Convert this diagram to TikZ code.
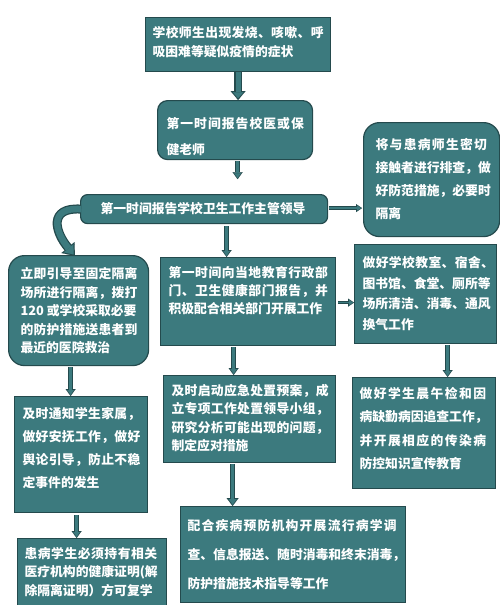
\documentclass[tikz,border=0pt]{standalone}
\usepackage{fontspec}
\newfontfamily\cjk{Noto Sans CJK SC}
\usetikzlibrary{arrows.meta,calc}
\definecolor{tealf}{RGB}{60,122,126}
\definecolor{edgec}{RGB}{36,74,77}
\newcommand\ls[2]{{\addfontfeature{LetterSpace=#1}#2}}
\newcommand\btext[4]{\raisebox{#1}[\height][\depth]{\begin{minipage}{#2}\fontsize{12.8}{#3}\selectfont\raggedright #4\end{minipage}}}
\newcommand\blkarrow[3]{\draw[#1] #3; \draw[#2] #3;}
\tikzset{
  box/.style={draw=edgec, fill=tealf, line width=1.2pt, text=white, font=\cjk\bfseries, inner sep=0pt, anchor=north west},
  rbox/.style={box, rounded corners=#1},
  bigo/.style={line width=7.5pt, draw=edgec, -{Triangle[length=9pt,width=15pt,line width=0.1pt]}},
  bigi/.style={line width=5pt, draw=tealf, shorten >=1.8pt, -{Triangle[length=6pt,width=10.5pt,line width=0.1pt]}},
  curo/.style={line width=9pt, draw=edgec, -{Triangle[length=11pt,width=17pt,line width=0.1pt]}},
  curi/.style={line width=6.5pt, draw=tealf, shorten >=2pt, -{Triangle[length=8pt,width=12.5pt,line width=0.1pt]}},
  smo/.style={line width=4.5pt, draw=edgec, -{Triangle[length=7pt,width=10pt,line width=0.1pt]}},
  smi/.style={line width=2.5pt, draw=tealf, shorten >=1.2pt, -{Triangle[length=4.8pt,width=6.5pt,line width=0.1pt]}},
  tho/.style={line width=3.4pt, draw=edgec, -{Triangle[length=6pt,width=8pt,line width=0.1pt]}},
  thi/.style={line width=1.4pt, draw=tealf, shorten >=1pt, -{Triangle[length=4pt,width=5pt,line width=0.1pt]}},
  mdo/.style={line width=5.5pt, draw=edgec, -{Triangle[length=8pt,width=12pt,line width=0.1pt]}},
  mdi/.style={line width=3.5pt, draw=tealf, shorten >=1.4pt, -{Triangle[length=5.5pt,width=8pt,line width=0.1pt]}},
}
\begin{document}
\begin{tikzpicture}[x=1pt,y=-1pt]
\useasboundingbox (0,0) rectangle (500,605);
\fill[white] (0,0) rectangle (500,605);

\node[box, minimum width=185pt, minimum height=54pt] (b1) at (145,17)
  {\btext{2.5pt}{171pt}{19pt}{\ls{3}{学校师生出现发烧、咳嗽、呼}\\吸困难等疑似疫情的症状}};
\node[rbox=10pt, minimum width=155pt, minimum height=59pt] (b2) at (157,100)
  {\btext{-6.5pt}{137pt}{26pt}{\ls{8}{第一时间报告校医或保}\\健老师}};
\node[rbox=7pt, minimum width=247pt, minimum height=29pt] (b3) at (80,194)
  {\btext{0.5pt}{207pt}{15pt}{第一时间报告学校卫生工作主管领导}};
\node[rbox=16pt, minimum width=136pt, minimum height=114pt] (r1) at (363,122)
  {\btext{0.5pt}{112pt}{23pt}{\ls{10}{将与患病师生密切}\\接触者进行排查，做\\好防范措施，必要时\\隔离}};
\node[rbox=16pt, minimum width=140pt, minimum height=110pt] (L1) at (8,255)
  {\btext{0pt}{116pt}{18.5pt}{\ls{1.5}{立即引导至固定隔离}\\\ls{1.5}{场所进行隔离，拨打}\\120 或学校采取必要\\\ls{1.5}{的防护措施送患者到}\\最近的医院救治}};
\node[box, minimum width=175pt, minimum height=88pt] (M1) at (160,257)
  {\btext{11pt}{159pt}{18.3pt}{\ls{4}{第一时间向当地教育行政部}\\\ls{4}{门、卫生健康部门报告，并}\\积极配合相关部门开展工作}};
\node[box, minimum width=142pt, minimum height=99pt] (R2) at (354,244)
  {\btext{0.5pt}{126pt}{20.5pt}{\ls{3}{做好学校教室、宿舍、}\\图书馆、食堂、厕所等\\场所清洁、消毒、通风\\换气工作}};
\node[box, minimum width=133pt, minimum height=116pt] (L2) at (14,396)
  {\btext{6.5pt}{117pt}{23pt}{\ls{2.5}{及时通知学生家属，}\\\ls{2.5}{做好安抚工作，做好}\\\ls{2.5}{舆论引导，防止不稳}\\定事件的发生}};
\node[box, minimum width=172pt, minimum height=87pt] (M2) at (163,375)
  {\btext{1pt}{156pt}{18.5pt}{\ls{2.5}{及时启动应急处置预案，成}\\\ls{2.5}{立专项工作处置领导小组，}\\\ls{2.5}{研究分析可能出现的问题，}\\制定应对措施}};
\node[box, minimum width=143pt, minimum height=111pt] (R3) at (352,377)
  {\btext{4.5pt}{129pt}{23.5pt}{\ls{11}{做好学生晨午检和因}\\病缺勤病因追查工作，\\\ls{11}{并开展相应的传染病}\\防控知识宣传教育}};
\node[box, minimum width=149pt, minimum height=72pt] (L3) at (17,538)
  {\btext{2.5pt}{135pt}{18.5pt}{\ls{4}{患病学生必须持有相关}\\医疗机构的健康证明(解\\除隔离证明）方可复学}};
\node[box, minimum width=225pt, minimum height=96pt] (B) at (180,506)
  {\btext{0pt}{211pt}{29pt}{\ls{9.5}{配合疾病预防机构开展流行病学调}\\查、信息报送、随时消毒和终末消毒，\\防护措施技术指导等工作}};

% connectors
\coordinate (a2s) at ($(b2.south)+(2.5,1)$);
\coordinate (a2e) at ($(b2.south)+(2.5,19)$);
\coordinate (a4s) at ($(b3.south)+(22.5,2)$);
\coordinate (a5s) at ($(L1.south)+(-8,1)$);
\coordinate (a6s) at ($(M1.south)+(-14.5,1)$);
\coordinate (a7s) at ($(M1.east)+(2,1)$);
\coordinate (a8s) at ($(R2.south)+(22,1)$);
\coordinate (a9s) at ($(L2.south)+(-4.5,2)$);
\coordinate (a10s) at ($(M2.south)+(-17,1)$);
\coordinate (ce) at ($(L1.north west)+(67,1)$);

\blkarrow{bigo}{bigi}{(b1.south) -- (b1.south |- b2.north)}
\blkarrow{smo}{smi}{(a2s) -- (a2e)}
\blkarrow{tho}{thi}{($(b3.east)+(1,-1)$) -- ($(b3.east -| r1.west)+(-1,-1)$)}
\blkarrow{curo}{curi}{($(b3.west)+(1,0)$) .. controls (48,207) and (55,232) .. (ce)}
\blkarrow{smo}{smi}{(a4s) -- (a4s |- M1.north)}
\blkarrow{smo}{smi}{(a5s) -- (a5s |- L2.north)}
\blkarrow{smo}{smi}{(a6s) -- (a6s |- M2.north)}
\blkarrow{tho}{thi}{(a7s) -- (a7s -| R2.west)}
\blkarrow{smo}{smi}{(a8s) -- (a8s |- R3.north)}
\blkarrow{smo}{smi}{(a9s) -- (a9s |- L3.north)}
\blkarrow{mdo}{mdi}{(a10s) -- (a10s |- B.north)}
\end{tikzpicture}
\end{document}
